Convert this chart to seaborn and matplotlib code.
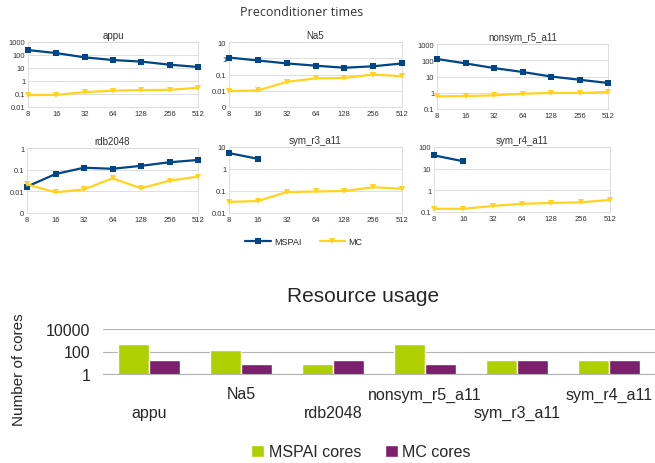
import numpy as np
import pandas as pd
import matplotlib
matplotlib.use("Agg")
import matplotlib.pyplot as plt
import seaborn as sns
from matplotlib.lines import Line2D
from matplotlib.ticker import NullLocator

# --- data ---
procs = [8, 16, 32, 64, 128, 256, 512]
methods = ['MSPAI', 'MC']

appu_mspai = [240, 140, 66, 41, 31, 18, 12]
appu_mc = [0.083, 0.085, 0.14, 0.18, 0.20, 0.21, 0.30]
na5_mspai = [1.1, 0.73, 0.48, 0.35, 0.26, 0.32, 0.48]
na5_mc = [0.0095, 0.0104, 0.035, 0.058, 0.061, 0.10, 0.078]
nonsym_mspai = [120, 64, 33, 19, 10, 6.3, 4.0]
nonsym_mc = [0.60, 0.63, 0.69, 0.87, 0.97, 0.97, 1.1]
rdb_mspai = [0.0165, 0.063, 0.123, 0.11, 0.15, 0.22, 0.28]
rdb_mc = [0.021, 0.009, 0.0123, 0.040, 0.0138, 0.031, 0.048]
symr3_mspai = [5.3, 2.9, np.nan, np.nan, np.nan, np.nan, np.nan]
symr3_mc = [0.032, 0.035, 0.089, 0.095, 0.10, 0.148, 0.128]
symr4_mspai = [41, 22, np.nan, np.nan, np.nan, np.nan, np.nan]
symr4_mc = [0.14, 0.14, 0.19, 0.24, 0.26, 0.28, 0.36]

panel_names = ['appu', 'Na5', 'nonsym_r5_a11', 'rdb2048', 'sym_r3_a11', 'sym_r4_a11']
yticks_appu = [0.01, 0.1, 1, 10, 100, 1000]
ylabels_appu = ['0.01', '0.1', '1', '10', '100', '1000']
yticks_na5 = [0.001, 0.01, 0.1, 1, 10]
ylabels_na5 = ['0', '0.01', '0.1', '1', '10']
yticks_nonsym = [0.1, 1, 10, 100, 1000]
ylabels_nonsym = ['0.1', '1', '10', '100', '1000']
yticks_rdb = [0.001, 0.01, 0.1, 1]
ylabels_rdb = ['0', '0.01', '0.1', '1']
yticks_symr3 = [0.01, 0.1, 1, 10]
ylabels_symr3 = ['0.01', '0.1', '1', '10']
yticks_symr4 = [0.1, 1, 10, 100]
ylabels_symr4 = ['0.1', '1', '10', '100']

bar_matrices = ['appu', 'Na5', 'rdb2048', 'nonsym_r5_a11', 'sym_r3_a11', 'sym_r4_a11']
bar_kinds = ['MSPAI cores', 'MC cores']
mspai_cores = [512, 128, 8, 512, 16, 16]
mc_cores = [16, 8, 16, 8, 16, 16]
bar_yticks = [1, 100, 10000]
bar_ylabels = ['1', '100', '10000']

line_colors = {'MSPAI': '#004586', 'MC': '#ffd320'}
line_markers = {'MSPAI': 's', 'MC': 'v'}
bar_colors = {'MSPAI cores': '#aecf00', 'MC cores': '#7d1f6f'}

sns.set_style("white")
plt.rcParams['font.family'] = ['Liberation Sans', 'DejaVu Sans']

W, H = 655, 464
fig = plt.figure(figsize=(W / 100, H / 100), dpi=100)


def px_axes(l, t, r, b):
    # axes from pixel box (left, top, right, bottom)
    return fig.add_axes([l / W, 1 - b / H, (r - l) / W, (b - t) / H])


panels = [
    (appu_mspai, appu_mc, yticks_appu, ylabels_appu, (28, 43, 198, 108)),
    (na5_mspai, na5_mc, yticks_na5, ylabels_na5, (229, 43, 402, 108)),
    (nonsym_mspai, nonsym_mc, yticks_nonsym, ylabels_nonsym, (437, 45, 608, 110)),
    (rdb_mspai, rdb_mc, yticks_rdb, ylabels_rdb, (27, 149, 198, 214)),
    (symr3_mspai, symr3_mc, yticks_symr3, ylabels_symr3, (229, 148, 402, 214)),
    (symr4_mspai, symr4_mc, yticks_symr4, ylabels_symr4, (434, 148, 610, 213)),
]

for name, (mspai, mc, yt, yl, box) in zip(panel_names, panels):
    ax = px_axes(*box)
    df = pd.DataFrame({
        'procs': procs * 2,
        'time': list(mspai) + list(mc),
        'method': ['MSPAI'] * len(procs) + ['MC'] * len(procs),
    })
    sns.lineplot(data=df, x='procs', y='time', hue='method', style='method',
                 hue_order=methods, style_order=methods, palette=line_colors,
                 markers=line_markers, dashes=False, estimator=None,
                 linewidth=1.6, markersize=4.5, markeredgewidth=0,
                 legend=False, ax=ax)
    ax.set_xscale('log', base=2)
    ax.set_yscale('log')
    ax.set_xlim(procs[0], procs[-1])
    ax.set_ylim(yt[0], yt[-1])
    ax.set_xticks(procs, [str(p) for p in procs])
    ax.set_yticks(yt, yl)
    ax.xaxis.set_minor_locator(NullLocator())
    ax.yaxis.set_minor_locator(NullLocator())
    ax.yaxis.grid(True, color='#d9d9d9', lw=0.6)
    ax.xaxis.grid(False)
    for s in ax.spines.values():
        s.set_color('#d9d9d9')
        s.set_linewidth(0.6)
    ax.tick_params(labelsize=5.5, length=0, pad=2, colors='#333333')
    ax.set_xlabel('')
    ax.set_ylabel('')
    ax.set_title(name, fontsize=7, pad=3, color='#333333')
    # keep the end markers whole
    plt.setp(ax.lines, clip_on=False, zorder=5)

fig.text(302 / W, 1 - 12 / H, 'Preconditioner times', ha='center', va='center',
         fontsize=9, family=['Open Sans', 'DejaVu Sans'], color='#333333')

line_handles = [Line2D([], [], color=line_colors[m], marker=line_markers[m],
                       lw=1.6, markersize=4.5, markeredgewidth=0) for m in methods]
fig.legend(line_handles, methods, loc='center', bbox_to_anchor=(304 / W, 1 - 243 / H),
           ncol=2, frameon=False, fontsize=6.5, handlelength=2.8, columnspacing=2.0,
           handletextpad=0.4)

# --- resource usage bars ---
ax_bar = px_axes(103, 330, 655, 375)
ax_bar.set_yscale('log')
bar_df = pd.DataFrame({
    'matrix': bar_matrices * 2,
    'cores': mspai_cores + mc_cores,
    'kind': ['MSPAI cores'] * len(bar_matrices) + ['MC cores'] * len(bar_matrices),
})
sns.barplot(data=bar_df, x='matrix', y='cores', hue='kind', order=bar_matrices,
            hue_order=bar_kinds, palette=bar_colors, saturation=1, width=0.68,
            ax=ax_bar)
handles, labels = ax_bar.get_legend_handles_labels()
ax_bar.get_legend().remove()
ax_bar.set_ylim(bar_yticks[0], bar_yticks[-1])
ax_bar.set_xlim(-0.5, len(bar_matrices) - 0.5)
ax_bar.set_yticks(bar_yticks, bar_ylabels)
ax_bar.yaxis.set_minor_locator(NullLocator())
ax_bar.set_xticks(np.arange(-0.5, len(bar_matrices), 1), minor=True)
ax_bar.yaxis.grid(True, color='#b3b3b3', lw=0.8)
ax_bar.set_axisbelow(True)
for side in ['top', 'right', 'left']:
    ax_bar.spines[side].set_visible(False)
ax_bar.spines['bottom'].set_color('#b3b3b3')
ax_bar.tick_params(axis='y', labelsize=11.5, length=0, pad=9)
ax_bar.tick_params(axis='x', which='major', labelsize=11.5, length=0)
ax_bar.tick_params(axis='x', which='minor', length=5, color='#b3b3b3')
ax_bar.set_xlabel('')
ax_bar.set_ylabel('Number of cores', fontsize=11)
ax_bar.yaxis.set_label_coords(-0.139, 0.11)
for i, tick in enumerate(ax_bar.xaxis.get_major_ticks()):
    tick.set_pad(9 if i % 2 else 22)

fig.text(363 / W, 1 - 297 / H, 'Resource usage', ha='center', va='center', fontsize=15)
fig.legend(handles, labels, loc='center', bbox_to_anchor=(361 / W, 1 - 453 / H),
           ncol=2, frameon=False, fontsize=11.5, handlelength=0.8, handleheight=0.8,
           handletextpad=0.3, columnspacing=1.5)

fig.savefig('out.png', dpi=100)
